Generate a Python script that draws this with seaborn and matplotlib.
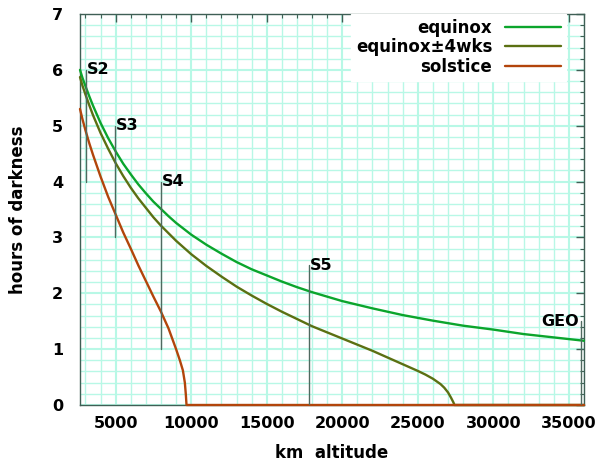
import matplotlib
matplotlib.use("Agg")
import matplotlib.pyplot as plt
import seaborn as sns
import pandas as pd
from matplotlib.ticker import MultipleLocator

# ---- data ----
alt_eq = [2640, 2800, 3000, 3250, 3500, 4000, 4500, 5000, 5500, 6000, 6500,
          7000, 7500, 8000, 8500, 9000, 10000, 11000, 12000, 13000, 14000,
          15000, 16000, 17000, 18000, 20000, 22000, 24000, 26000, 28000,
          30000, 32000, 34000, 36000]
hours_eq = [6.00, 5.86, 5.71, 5.53, 5.36, 5.05, 4.78, 4.54, 4.32, 4.13, 3.95,
            3.79, 3.64, 3.51, 3.38, 3.26, 3.05, 2.87, 2.71, 2.56, 2.43,
            2.32, 2.21, 2.11, 2.02, 1.86, 1.73, 1.61, 1.51, 1.42,
            1.35, 1.27, 1.21, 1.15]

alt_4wk = [2640, 2800, 3000, 3250, 3500, 4000, 4500, 5000, 5500, 6000, 6500,
           7000, 7500, 8000, 9000, 10000, 11000, 12000, 13000, 14000, 15000,
           16000, 17000, 18000, 19000, 20000, 21000, 22000, 23000, 24000,
           25000, 25500, 26000, 26500, 26750, 27000, 27200, 27350, 27430, 36000]
hours_4wk = [5.87, 5.72, 5.56, 5.37, 5.19, 4.87, 4.59, 4.33, 4.10, 3.89, 3.70,
             3.53, 3.36, 3.21, 2.94, 2.70, 2.49, 2.30, 2.12, 1.96, 1.81,
             1.67, 1.54, 1.41, 1.30, 1.19, 1.08, 0.97, 0.85, 0.73,
             0.61, 0.545, 0.47, 0.375, 0.31, 0.225, 0.13, 0.05, 0.0, 0.0]

alt_sol = [2640, 2800, 3000, 3250, 3500, 4000, 4500, 5000, 5500, 6000, 6500,
           7000, 7500, 8000, 8500, 9000, 9250, 9450, 9580, 9650, 9690, 36000]
hours_sol = [5.30, 5.12, 4.92, 4.69, 4.48, 4.09, 3.73, 3.41, 3.09, 2.80, 2.50,
             2.22, 1.94, 1.67, 1.37, 1.00, 0.80, 0.62, 0.40, 0.17, 0.0, 0.0]

series_names = ["equinox", "equinox\u00b14wks", "solstice"]
series_colors = ["#0ba52c", "#5b7012", "#b2450b"]

# station markers: name, altitude, bottom, top
station_names = ["S2", "S3", "S4", "S5", "GEO"]
station_alt = [3050, 4960, 8000, 17800, 35786]
station_lo = [4.0, 3.0, 1.0, 0.0, 0.0]
station_hi = [6.0, 5.0, 4.0, 2.5, 1.5]

x_ticks = [5000, 10000, 15000, 20000, 25000, 30000, 35000]
y_ticks = [0, 1, 2, 3, 4, 5, 6, 7]

# ---- figure ----
sns.set_theme(style="white")
plt.rcParams["font.family"] = ["DejaVu Sans"]
plt.rcParams["font.weight"] = "bold"
plt.rcParams["text.color"] = "black"
plt.rcParams["axes.labelcolor"] = "black"

fig = plt.figure(figsize=(6.02, 4.62), dpi=100)
ax = fig.add_axes([80/602, 1-405/462, (584-80)/602, (405-14)/462])

grid_c = "#b8f8e6"
axis_c = "#3f5f55"

ax.set_xlim(2640, 36000)
ax.set_ylim(0, 7)
ax.xaxis.set_major_locator(MultipleLocator(5000))
ax.xaxis.set_minor_locator(MultipleLocator(1000))
ax.yaxis.set_major_locator(MultipleLocator(1))
ax.yaxis.set_minor_locator(MultipleLocator(0.2))
ax.set_xticks(x_ticks)
ax.set_yticks(y_ticks)
ax.grid(which="major", color=grid_c, lw=1.5, zorder=0)
ax.grid(which="minor", color=grid_c, lw=1.0, zorder=0)
ax.set_axisbelow(True)

dfs = [
    pd.DataFrame({"alt": alt_eq, "hours": hours_eq}),
    pd.DataFrame({"alt": alt_4wk, "hours": hours_4wk}),
    pd.DataFrame({"alt": alt_sol, "hours": hours_sol}),
]
for df, name, col in zip(dfs, series_names, series_colors):
    sns.lineplot(data=df, x="alt", y="hours", ax=ax, color=col, lw=1.7,
                 label=name, sort=False, zorder=3, clip_on=False)

for nm, xa, lo, hi in zip(station_names, station_alt, station_lo, station_hi):
    ax.plot([xa, xa], [lo, hi], color="#4f6a60", lw=1.0, zorder=4)
    if nm == "GEO":
        ax.text(xa - 150, hi, nm, ha="right", va="center", fontsize=11.5,
                fontweight="bold", color="black", zorder=5)
    else:
        ax.text(xa + 30, hi, nm, ha="left", va="center", fontsize=11.5,
                fontweight="bold", color="black", zorder=5)

for s in ax.spines.values():
    s.set_color(axis_c)
    s.set_linewidth(1.0)
ax.tick_params(which="both", direction="in", top=True, right=True,
               colors=axis_c, labelcolor="black")
ax.tick_params(which="major", length=6, width=1.0, labelsize=11.5)
ax.tick_params(which="minor", length=3, width=0.8)
ax.tick_params(axis="y", which="major", pad=12)
ax.tick_params(axis="x", which="major", pad=8)
for lab in ax.get_xticklabels() + ax.get_yticklabels():
    lab.set_fontweight("bold")

ax.set_xlabel("km  altitude", fontsize=12, fontweight="bold", labelpad=9,
              color="black")
ax.set_ylabel("hours of darkness", fontsize=12, fontweight="bold", labelpad=18,
              color="black")

leg = ax.legend(loc="upper right", bbox_to_anchor=(0.965, 1.0), markerfirst=False,
                frameon=True, fancybox=False, framealpha=1.0, fontsize=12,
                handlelength=3.4, handletextpad=0.75, labelspacing=0.08,
                borderpad=0.3, borderaxespad=0.0)
leg.get_frame().set_edgecolor("white")
leg.get_frame().set_facecolor("white")
leg.set_zorder(6)
for t in leg.get_texts():
    t.set_fontweight("bold")
    t.set_color("black")

fig.savefig("out.png", dpi=100)
